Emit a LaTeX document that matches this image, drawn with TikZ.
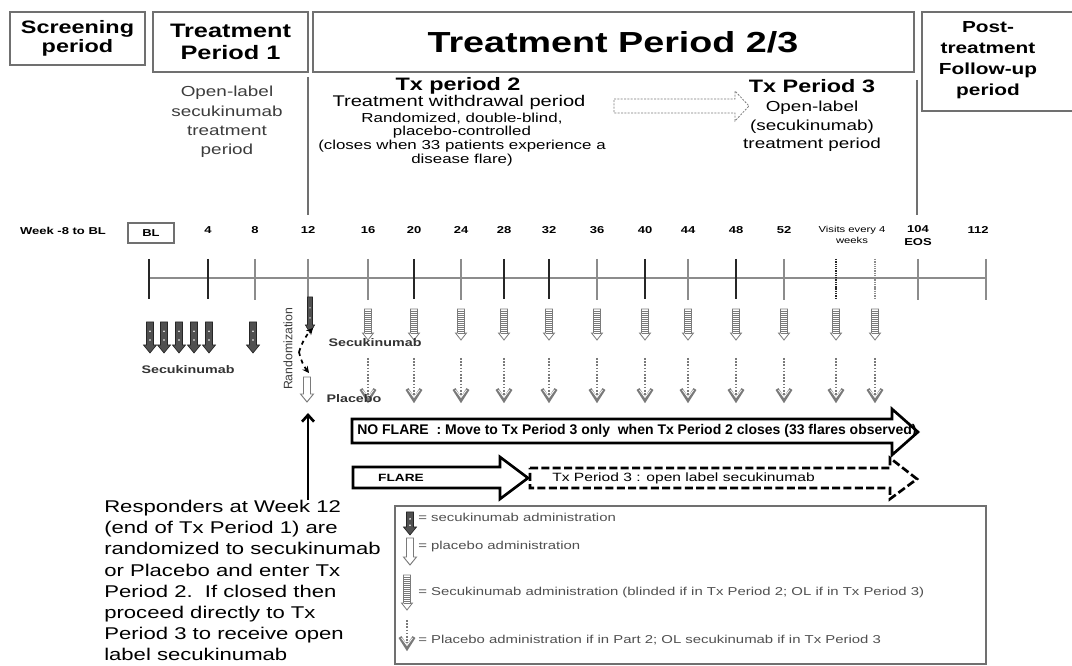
\documentclass[tikz,border=0pt]{standalone}
\usepackage{fontspec}
\setmainfont{Liberation Sans}[FakeStretch=1.3]
\newfontfamily\plainsans{Liberation Sans}
\usetikzlibrary{positioning, arrows.meta, calc}
\definecolor{BoxLine}{HTML}{707070}
\definecolor{TickGray}{HTML}{8C8C8C}
\definecolor{DoseDark}{HTML}{505050}
\definecolor{DoseMid}{HTML}{7A7A7A}
\definecolor{SubText}{HTML}{3C3C3C}
\definecolor{LegText}{HTML}{505050}
\newcommand{\fsz}[2]{\fontsize{#1}{#2}\selectfont}
\tikzset{
    hdrbox/.style={draw=BoxLine, line width=1pt},
    hdrtxt/.style={align=center, inner sep=0pt, font=\bfseries\fsz{13.5pt}{14.5pt}},
    sepline/.style={draw=BoxLine, line width=0.9pt},
    subtxt/.style={align=center, inner sep=0pt, text=SubText},
    wklbl/.style={inner sep=0pt, font=\bfseries\fsz{7.5pt}{9pt}},
    tickdark/.style={draw=black!85, line width=1.1pt},
    ticklight/.style={draw=TickGray, line width=0.8pt},
    timeline/.style={draw=TickGray, line width=0.9pt},
    doselbl/.style={inner sep=0pt, font=\bfseries\fsz{8.25pt}{10pt}, text=black!80},
    randarr/.style={-{Stealth[length=5pt, width=5pt]}, dashed, line width=1.3pt},
    uparr/.style={-{Straight Barb[length=5pt, width=9pt]}, line width=2pt},
    bigarr/.style={draw=black, line width=2pt, line join=miter, fill=white},
    bigarrdash/.style={bigarr, dash pattern=on 6pt off 2.5pt},
    hollowdash/.style={draw=DoseMid, dash pattern=on 1.5pt off 1pt, line width=0.6pt},
    legframe/.style={draw=BoxLine, line width=0.9pt},
    legtxt/.style={anchor=west, inner sep=0pt, text=LegText, font=\fsz{8.6pt}{10pt}},
    % administration markers (length in px as argument)
    pics/soliddose/.style={code={
        \filldraw[draw=black!85, fill=DoseDark, line width=0.5pt]
            (-3.5,0) -- (3.5,0) -- (3.5,#1-8) -- (6.5,#1-8) -- (0,#1)
            -- (-6.5,#1-8) -- (-3.5,#1-8) -- cycle;
        \fill[white] (0,#1*0.3) circle (0.9) (0,#1*0.58) circle (0.9);
    }},
    pics/hollowdose/.style={code={
        \filldraw[draw=DoseMid, fill=white, line width=0.7pt]
            (-3.5,0) -- (3.5,0) -- (3.5,#1-8) -- (6.5,#1-8) -- (0,#1)
            -- (-6.5,#1-8) -- (-3.5,#1-8) -- cycle;
    }},
    pics/stripedose/.style={code={
        \pgfmathsetmacro\shaftend{#1-7}
        \filldraw[draw=DoseMid, fill=white, line width=0.6pt]
            (-3.5,0) -- (3.5,0) -- (3.5,\shaftend) -- (5.5,\shaftend) -- (0,#1)
            -- (-5.5,\shaftend) -- (-3.5,\shaftend) -- cycle;
        \foreach \k in {2,4,...,\shaftend}
            \draw[DoseMid, line width=0.5pt] (-3.5,\k) -- (3.5,\k);
    }},
    pics/dotdose/.style={code={
        \draw[DoseMid, line width=2pt, dash pattern=on 1.2pt off 1.2pt] (0,0) -- (0,#1-5);
        \draw[DoseMid, line width=2.6pt, line join=miter] (-7,#1-11) -- (0,#1) -- (7,#1-11);
        \draw[white, line width=0.6pt] (-5.5,#1-10) -- (0,#1-2.5) -- (5.5,#1-10);
    }}
}

\begin{document}
\begin{tikzpicture}[x=0.75pt, y=-0.75pt]
    \useasboundingbox (0,0) rectangle (1072,666);

    % --- PERIOD HEADERS ---
    \draw[hdrbox] (10,12) rectangle (145,65);
    \node[hdrtxt] (scrtxt) at (77.5,38.5) {Screening\\period};
    \draw[hdrbox] (153,12) rectangle (308,72);
    \node[hdrtxt, font=\bfseries\fsz{14.6pt}{17pt}] (tp1txt) at (230.5,42) {Treatment\\Period 1};
    \draw[hdrbox] (313,12) rectangle (914,72);
    \node[hdrtxt, font=\bfseries\fsz{21.75pt}{24pt}] (tp23txt) at (613,42) {Treatment Period 2/3};
    \draw[hdrbox] (1074,12) -- (922,12) -- (922,111) -- (1074,111);
    \node[hdrtxt, font=\bfseries\fsz{12pt}{15.75pt}] (posttxt) at (988,60) {Post-\\treatment\\Follow-up\\period};

    \draw[sepline] (308,77) -- (308,215);
    \draw[sepline] (917,80) -- (917,215);

    % --- PERIOD DESCRIPTIONS ---
    \node[subtxt, font=\fsz{10.9pt}{14.5pt}] (tp1desc) at (227,122) {Open-label\\secukinumab\\treatment\\period};
    \node[hdrtxt] (tx2) at (458,86) {Tx period 2};
    \node[subtxt, text=black, font=\fsz{11.6pt}{13pt}] (tx2a) at (459,103) {Treatment withdrawal period};
    \node[subtxt, text=black, font=\fsz{9.75pt}{10.3pt}] (tx2b) at (462,139.5) {Randomized, double-blind,\\placebo-controlled\\(closes when 33 patients experience a\\disease flare)};
    \node[hdrtxt] (tx3) at (812,86) {Tx Period 3};
    \node[subtxt, text=black, font=\fsz{10.9pt}{13.9pt}] (tx3a) at (812,126.5) {Open-label\\(secukinumab)\\treatment period};
    \draw[hollowdash] (614,99) -- (735,99) -- (735,91) -- (749,106) -- (735,121) -- (735,113) -- (614,113) -- cycle;

    % --- WEEK SCALE ---
    \node[wklbl] (wkpre) at (63,230.5) {Week -8 to BL};
    \node[wklbl, draw=BoxLine, line width=0.8pt, minimum width=34.5pt, minimum height=15pt] (wk0) at (151,233) {BL};
    \foreach \x/\w in {208/4, 255/8, 308/12, 368/16, 414/20, 461/24, 504/28, 549/32, 597/36, 645/40, 688/44, 736/48, 784/52}
        \node[wklbl] (wk\w) at (\x,230.5) {\w};
    \node[wklbl, align=center, font=\fsz{6.5pt}{8.2pt}] (wkvis) at (852,234.5) {Visits every 4\\weeks};
    \node[wklbl, align=center, font=\bfseries\fsz{7.5pt}{9.75pt}] (wk104) at (918,235.5) {104\\EOS};
    \node[wklbl] (wk112) at (978,230.5) {112};

    \draw[timeline] (149,278) -- (986,278);
    \foreach \x in {149,208,414,504,549,645,736}
        \draw[tickdark] (\x,259) -- (\x,299);
    \foreach \x in {255,308,368,461,597,688,784,918,986}
        \draw[ticklight] (\x,259) -- (\x,300);
    \draw[tickdark, dash pattern=on 1pt off 0.7pt] (836,259) -- (836,299);
    \draw[ticklight, dash pattern=on 1pt off 0.7pt] (875,259) -- (875,299);

    % --- DOSING ---
    \foreach \x in {150,164,179,194,209,253}
        \pic at (\x,322) {soliddose=31};
    \node[doselbl] (seclbl1) at (188,370) {Secukinumab};
    \pic[xscale=0.7] at (310,297) {soliddose=36};
    \pic at (307,377) {hollowdose=25};
    \node[inner sep=0pt, rotate=90, text=SubText, font=\plainsans\fsz{9.2pt}{10pt}] (randlbl) at (288,349) {Randomization};
    \coordinate (randtop) at (313,328);
    \coordinate (randmid) at (299,352);
    \coordinate (randbot) at (309,373);
    \draw[randarr] (randmid) to[bend left=12] (randtop);
    \draw[randarr] (randmid) to[bend right=12] (randbot);
    \foreach \x in {368,414,461,504,549,597,645,688,736,784,836,875} {
        \pic at (\x,309) {stripedose=31};
        \pic at (\x,358) {dotdose=42};
    }
    \node[doselbl] (seclbl2) at (375,343) {Secukinumab};
    \node[doselbl] (placlbl) at (354,399) {Placebo};

    % --- FLARE PATHS ---
    \draw[bigarr] (352,419) -- (892,419) -- (892,409) -- (918,432) -- (892,455) -- (892,443) -- (352,443) -- cycle;
    \node[anchor=west, inner sep=0pt, font=\plainsans\bfseries\fsz{10.5pt}{12pt}] (noflare) at (357,431)
        {NO FLARE\ \ : Move to Tx Period 3 only\ \ when Tx Period 2 closes (33 flares observed)};
    \draw[bigarrdash] (530,468) -- (890,468) -- (890,458) -- (917,479) -- (890,499) -- (890,488) -- (530,488) -- cycle;
    \draw[bigarr] (353,467) -- (500,467) -- (500,457) -- (528,478) -- (500,499) -- (500,488) -- (353,488) -- cycle;
    \node[inner sep=0pt, font=\bfseries\fsz{7.9pt}{9pt}] (flare) at (401,478) {FLARE};
    \node[anchor=west, inner sep=0pt, font=\fsz{9pt}{10pt}] (tx3ol) at (552,478) {Tx Period 3 : open label secukinumab};

    % --- RESPONDERS NOTE ---
    \node[anchor=north west, align=left, inner sep=0pt, font=\fsz{12.75pt}{15.9pt}] (resp) at (104,500)
        {Responders at Week 12\\(end of Tx Period 1) are\\randomized to secukinumab\\or Placebo and enter Tx\\Period 2.\ \ If closed then\\proceed directly to Tx\\Period 3 to receive open\\label secukinumab};
    \coordinate (uptip) at (308,413);
    \draw[uparr] (uptip |- resp.north) -- (uptip);

    % --- LEGEND ---
    \draw[legframe] (395,506) rectangle (986,664);
    \pic at (410,512) {soliddose=23};
    \pic at (410,538) {hollowdose=27};
    \pic at (407,575) {stripedose=35};
    \pic at (407,620) {dotdose=28};
    \node[legtxt] (leg1) at (418,517) {= secukinumab administration};
    \node[legtxt] (leg2) at (418,547) {= placebo administration};
    \node[legtxt] (leg3) at (418,593) {= Secukinumab administration (blinded if in Tx Period 2; OL if in Tx Period 3)};
    \node[legtxt] (leg4) at (418,640) {= Placebo administration if in Part 2; OL secukinumab if in Tx Period 3};

\end{tikzpicture}
\end{document}
